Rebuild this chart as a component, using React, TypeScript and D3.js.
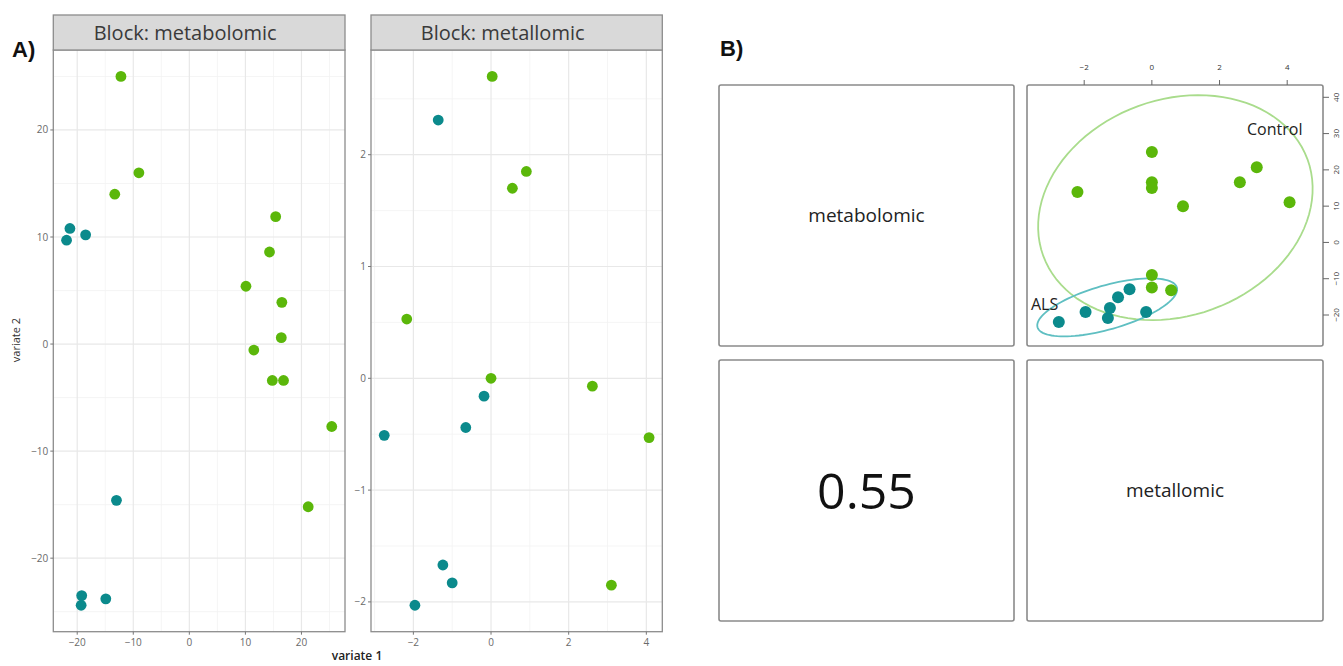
import React from "react";
import * as d3 from "d3";

// ---------- Data ----------
const groups = ["ALS", "Control"];
const groupColors = ["#0b8a8c", "#5bb70a"];
const ellipseColors = ["#5fbfc2", "#a9dc8c"];

// Panel A: metabolomic block (variate 1, variate 2)
const metabolomicALS: [number, number][] = [
  [-21.3, 10.8], [-21.9, 9.7], [-18.5, 10.2], [-13.0, -14.6],
  [-19.2, -23.5], [-19.3, -24.4], [-14.9, -23.8],
];
const metabolomicControl: [number, number][] = [
  [-12.2, 25.0], [-9.0, 16.0], [-13.3, 14.0], [15.4, 11.9], [14.3, 8.6],
  [10.1, 5.4], [16.5, 3.9], [16.4, 0.6], [11.5, -0.56], [14.8, -3.4],
  [16.8, -3.4], [25.4, -7.7], [21.2, -15.2],
];

// Panel A: metallomic block
const metallomicALS: [number, number][] = [
  [-1.36, 2.31], [-0.18, -0.16], [-0.65, -0.44], [-2.75, -0.51],
  [-1.24, -1.67], [-1.0, -1.83], [-1.96, -2.03],
];
const metallomicControl: [number, number][] = [
  [0.03, 2.7], [0.91, 1.85], [0.55, 1.7], [-2.17, 0.53], [0.0, 0.0],
  [2.61, -0.07], [4.07, -0.53], [3.1, -1.85],
];

const metabolomicXTicks = [-20, -10, 0, 10, 20];
const metabolomicYTicks = [-20, -10, 0, 10, 20];
const metallomicXTicks = [-2, 0, 2, 4];
const metallomicYTicks = [-2, -1, 0, 1, 2];

// Panel B: correlation plot (metallomic variate 1 vs metabolomic variate 1)
const pairALS: [number, number][] = [
  [-2.75, -21.9], [-1.96, -19.2], [-1.3, -20.8], [-1.24, -18.1],
  [-1.0, -15.1], [-0.66, -12.9], [-0.17, -19.2],
];
const pairControl: [number, number][] = [
  [0.0, 24.9], [-2.2, 13.9], [0.0, 16.6], [0.0, 15.0], [0.92, 10.0],
  [2.6, 16.6], [3.1, 20.7], [4.07, 11.1], [0.0, -9.0], [0.0, -12.4],
  [0.57, -13.2],
];
const pairXTicks = [-2, 0, 2, 4];
const pairYTicks = [-20, -10, 0, 10, 20, 30, 40];
const alsEllipseCenter = [-1.32, -17.9];
const alsEllipseAxes = [[2.06, 5.48], [0.178, -5.83]];
const controlEllipseCenter = [0.695, 9.59];
const controlEllipseAxes = [[3.905, 13.31], [1.1, -27.99]];
const blockNames = ["metabolomic", "metallomic"];
const correlationValue = "0.55";

// ---------- Helpers ----------
const FONT = "'Open Sans', 'Noto Sans', sans-serif";

function expand(vals: number[]): [number, number] {
  const [lo, hi] = d3.extent(vals) as [number, number];
  const pad = (hi - lo) * 0.05;
  return [lo - pad, hi + pad];
}

function minorBetween(ticks: number[], domain: [number, number]) {
  const step = ticks[1] - ticks[0];
  const out: number[] = [];
  for (let v = ticks[0] - step / 2; v <= domain[1]; v += step) {
    if (v >= domain[0]) out.push(v);
  }
  return out;
}

type FacetProps = {
  x0: number; x1: number; y0: number; y1: number; stripTop: number;
  title: string;
  als: [number, number][]; control: [number, number][];
  xTicks: number[]; yTicks: number[];
};

function Facet({ x0, x1, y0, y1, stripTop, title, als, control, xTicks, yTicks }: FacetProps) {
  const all = [...als, ...control];
  const xd = expand(all.map((d) => d[0]));
  const yd = expand(all.map((d) => d[1]));
  const xs = d3.scaleLinear().domain(xd).range([x0, x1]);
  const ys = d3.scaleLinear().domain(yd).range([y1, y0]);
  const xMinor = minorBetween(xTicks, xd);
  const yMinor = minorBetween(yTicks, yd);
  const fmt = (v: number) => (v < 0 ? "\u2212" + Math.abs(v) : String(v));
  return (
    <g>
      <rect x={x0} y={y0} width={x1 - x0} height={y1 - y0} fill="#fff" />
      {xMinor.map((v) => (
        <line key={"xm" + v} x1={xs(v)} x2={xs(v)} y1={y0} y2={y1} stroke="#f2f2f2" strokeWidth={0.8} />
      ))}
      {yMinor.map((v) => (
        <line key={"ym" + v} y1={ys(v)} y2={ys(v)} x1={x0} x2={x1} stroke="#f2f2f2" strokeWidth={0.8} />
      ))}
      {xTicks.map((v) => (
        <line key={"xM" + v} x1={xs(v)} x2={xs(v)} y1={y0} y2={y1} stroke="#e8e8e8" strokeWidth={1.2} />
      ))}
      {yTicks.map((v) => (
        <line key={"yM" + v} y1={ys(v)} y2={ys(v)} x1={x0} x2={x1} stroke="#e8e8e8" strokeWidth={1.2} />
      ))}
      {[als, control].map((pts, gi) =>
        pts.map((p, i) => (
          <circle key={gi + "-" + i} cx={xs(p[0])} cy={ys(p[1])} r={5.4} fill={groupColors[gi]} />
        ))
      )}
      <rect x={x0} y={y0} width={x1 - x0} height={y1 - y0} fill="none" stroke="#8c8c8c" strokeWidth={1.3} />
      {/* strip */}
      <rect x={x0} y={stripTop} width={x1 - x0} height={y0 - stripTop} fill="#d9d9d9" stroke="#8c8c8c" strokeWidth={1.3} />
      <text x={(x0 + x1) / 2 - 14} y={(stripTop + y0) / 2 + 7} textAnchor="middle" fontSize={20} fill="#3a3a3a" fontFamily={FONT}>
        {title}
      </text>
      {/* axes */}
      {xTicks.map((v) => (
        <g key={"xt" + v}>
          <line x1={xs(v)} x2={xs(v)} y1={y1} y2={y1 + 3} stroke="#777" strokeWidth={1} />
          <text x={xs(v)} y={y1 + 14} textAnchor="middle" fontSize={10} fill="#6a6a6a" fontFamily={FONT}>
            {fmt(v)}
          </text>
        </g>
      ))}
      {yTicks.map((v) => (
        <g key={"yt" + v}>
          <line x1={x0 - 3} x2={x0} y1={ys(v)} y2={ys(v)} stroke="#777" strokeWidth={1} />
          <text x={x0 - 5} y={ys(v) + 3.5} textAnchor="end" fontSize={10} fill="#6a6a6a" fontFamily={FONT}>
            {fmt(v)}
          </text>
        </g>
      ))}
    </g>
  );
}

function ellipsePath(center: number[], axes: number[][], xs: any, ys: any) {
  const ts = d3.range(0, 101).map((i) => (i / 100) * Math.PI * 2);
  const line = d3
    .line<number>()
    .x((t) => xs(center[0] + axes[0][0] * Math.cos(t) + axes[1][0] * Math.sin(t)))
    .y((t) => ys(center[1] + axes[0][1] * Math.cos(t) + axes[1][1] * Math.sin(t)));
  return line(ts) || "";
}

export default function App() {
  const W = 1343;
  const H = 666;

  // Panel B layout
  const colX = [[719, 1014], [1027, 1323]];
  const rowY = [[85, 346], [360, 621]];
  const bx = d3.scaleLinear().domain([-2, 4]).range([1084.2, 1287.2]);
  const by = d3.scaleLinear().domain([-20, 40]).range([315.0, 97.3]);

  return (
    <svg width={W} height={H} style={{ position: "absolute", left: 0, top: 0, background: "#fff" }}>
      <rect width={W} height={H} fill="#fff" />
      {/* ---------- A ---------- */}
      <text x={12} y={57} fontSize={22} fontWeight="bold" fontFamily="'Liberation Sans', Arial, sans-serif" fill="#111">
        A)
      </text>
      <Facet x0={53.3} x1={345} y0={50} y1={631.7} stripTop={15} title="Block: metabolomic"
        als={metabolomicALS} control={metabolomicControl} xTicks={metabolomicXTicks} yTicks={metabolomicYTicks} />
      <Facet x0={371} x1={662.3} y0={50} y1={631.7} stripTop={15} title="Block: metallomic"
        als={metallomicALS} control={metallomicControl} xTicks={metallomicXTicks} yTicks={metallomicYTicks} />
      <text transform="translate(20,340) rotate(-90)" textAnchor="middle" fontSize={11} fill="#333" fontFamily={FONT}>
        variate 2
      </text>
      <text x={357} y={660} textAnchor="middle" fontSize={12} fill="#222" fontFamily={FONT} fontWeight={600}>
        variate 1
      </text>

      {/* ---------- B ---------- */}
      <text x={720} y={56} fontSize={22} fontWeight="bold" fontFamily="'Liberation Sans', Arial, sans-serif" fill="#111">
        B)
      </text>
      {rowY.map((ry, ri) =>
        colX.map((cx, ci) => (
          <rect key={ri + "-" + ci} x={cx[0]} y={ry[0]} width={cx[1] - cx[0]} height={ry[1] - ry[0]}
            rx={2} fill="#fff" stroke="#8a8a8a" strokeWidth={1.6} />
        ))
      )}
      <text x={(colX[0][0] + colX[0][1]) / 2} y={(rowY[0][0] + rowY[0][1]) / 2 + 6} textAnchor="middle"
        fontSize={19} fill="#222" fontFamily={FONT}>
        {blockNames[0]}
      </text>
      <text x={(colX[1][0] + colX[1][1]) / 2} y={(rowY[1][0] + rowY[1][1]) / 2 + 6} textAnchor="middle"
        fontSize={19} fill="#222" fontFamily={FONT}>
        {blockNames[1]}
      </text>
      <text x={(colX[0][0] + colX[0][1]) / 2} y={(rowY[1][0] + rowY[1][1]) / 2 + 18} textAnchor="middle"
        fontSize={50} fill="#111" fontFamily={FONT}>
        {correlationValue}
      </text>

      {/* scatter in top-right box */}
      <path d={ellipsePath(controlEllipseCenter, controlEllipseAxes, bx, by)} fill="none" stroke={ellipseColors[1]} strokeWidth={1.8} />
      <path d={ellipsePath(alsEllipseCenter, alsEllipseAxes, bx, by)} fill="none" stroke={ellipseColors[0]} strokeWidth={1.8} />
      {[pairALS, pairControl].map((pts, gi) =>
        pts.map((p, i) => (
          <circle key={"b" + gi + "-" + i} cx={bx(p[0])} cy={by(p[1])} r={6} fill={groupColors[gi]} />
        ))
      )}
      <text x={1247} y={135} fontSize={16} fill="#222" fontFamily={FONT}>{groups[1]}</text>
      <text x={1031} y={310} fontSize={16} fill="#222" fontFamily={FONT}>{groups[0]}</text>

      {/* top axis */}
      {pairXTicks.map((v) => (
        <g key={"bx" + v}>
          <line x1={bx(v)} x2={bx(v)} y1={rowY[0][0]} y2={rowY[0][0] - 5} stroke="#666" strokeWidth={1} />
          <text x={bx(v)} y={70} textAnchor="middle" fontSize={8} fill="#333" fontFamily={FONT}>
            {v < 0 ? "\u2212" + Math.abs(v) : v}
          </text>
        </g>
      ))}
      {/* right axis */}
      {pairYTicks.map((v) => (
        <g key={"by" + v}>
          <line x1={colX[1][1]} x2={colX[1][1] + 6} y1={by(v)} y2={by(v)} stroke="#666" strokeWidth={1} />
          <text transform={`translate(${1339},${by(v)}) rotate(-90)`} textAnchor="middle" fontSize={8} fill="#333" fontFamily={FONT}>
            {v < 0 ? "\u2212" + Math.abs(v) : v}
          </text>
        </g>
      ))}
    </svg>
  );
}
